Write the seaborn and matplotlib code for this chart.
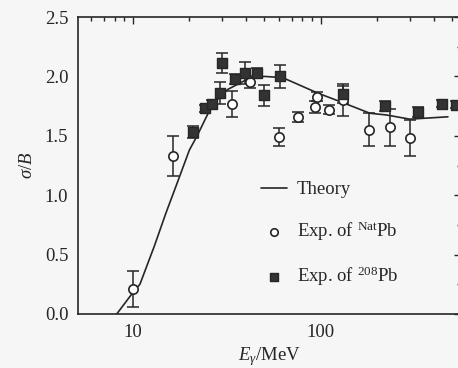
import numpy as np
import pandas as pd
import matplotlib
matplotlib.use("Agg")
import matplotlib.pyplot as plt
from matplotlib.ticker import FixedLocator, FixedFormatter, MultipleLocator, LogLocator, NullFormatter
import seaborn as sns

# curva teorica
theory_e = [8.2, 10, 10.9, 13, 15, 17.1, 20, 22, 25, 28, 32, 40, 50, 62.7, 96.4, 131, 183, 225, 299, 477]
theory_y = [0.0, 0.18, 0.25, 0.57, 0.85, 1.09, 1.38, 1.50, 1.68, 1.80, 1.89, 1.97, 2.00, 1.99, 1.86, 1.78, 1.69, 1.675, 1.64, 1.66]

# Exp. natPb (circulos)
nat_e = [10, 16.4, 33.7, 42, 60.3, 76.2, 93, 96, 110.6, 131, 181, 234, 299]
nat_y = [0.21, 1.33, 1.77, 1.95, 1.49, 1.66, 1.74, 1.83, 1.72, 1.80, 1.55, 1.57, 1.48]
nat_err = [0.155, 0.17, 0.11, 0.05, 0.075, 0.04, 0.05, 0.04, 0.04, 0.135, 0.14, 0.155, 0.15]

# Exp. 208Pb (cuadrados)
pb_e = [20.8, 24.3, 26.3, 29.2, 29.8, 35.1, 39.7, 45.8, 49.7, 61, 131, 220, 331, 445, 525]
pb_y = [1.53, 1.73, 1.77, 1.86, 2.11, 1.98, 2.03, 2.03, 1.84, 2.00, 1.85, 1.75, 1.70, 1.77, 1.76]
pb_err = [0.05, 0.03, 0.03, 0.09, 0.085, 0.04, 0.09, 0.04, 0.085, 0.10, 0.07, 0.04, 0.04, 0.03, 0.03]

x_ticks = [10, 100]
x_labels = ["10", "100"]

sns.set_theme(style="white")
plt.rcParams["font.family"] = ["Liberation Serif", "DejaVu Serif"]
plt.rcParams["font.size"] = 13.5
plt.rcParams["mathtext.fontset"] = "custom"
plt.rcParams["mathtext.rm"] = "Liberation Serif"
plt.rcParams["mathtext.it"] = "Liberation Serif:italic"

ink = "#262626"
bg = "#f6f6f6"

fig = plt.figure(figsize=(4.58, 3.68), dpi=100, facecolor=bg)
ax = fig.add_axes([78 / 458, 54 / 368, 383 / 458, 297 / 368], facecolor=bg)
ax.set_xscale("log")

sns.lineplot(x=theory_e, y=theory_y, ax=ax, color=ink, lw=1.2, sort=False, label="Theory", zorder=2)

ax.errorbar(nat_e, nat_y, yerr=nat_err, fmt="none", ecolor=ink, elinewidth=1.1, capsize=4.5, capthick=1.1, zorder=3)
ax.errorbar(pb_e, pb_y, yerr=pb_err, fmt="none", ecolor=ink, elinewidth=1.1, capsize=4.5, capthick=1.1, zorder=3)

sns.scatterplot(x=nat_e, y=nat_y, ax=ax, marker="o", s=45, facecolor="white", edgecolor=ink,
                linewidth=1.2, label="Exp. of $^{\\mathrm{Nat}}$Pb", zorder=4)
sns.scatterplot(x=pb_e, y=pb_y, ax=ax, marker="s", s=45, color="#333333", edgecolor=ink,
                linewidth=1.0, label="Exp. of $^{208}$Pb", zorder=5)

ax.set_xlim(5.1, 560)
ax.set_ylim(0, 2.5)

ax.xaxis.set_major_locator(FixedLocator(x_ticks))
ax.xaxis.set_major_formatter(FixedFormatter(x_labels))
ax.xaxis.set_minor_locator(LogLocator(base=10, subs=np.arange(2, 10)))
ax.xaxis.set_minor_formatter(NullFormatter())
ax.yaxis.set_major_locator(MultipleLocator(0.5))
ax.yaxis.set_minor_locator(MultipleLocator(0.25))
ax.yaxis.set_major_formatter(matplotlib.ticker.FormatStrFormatter("%.1f"))

ax.tick_params(which="both", direction="in", top=True, right=True, color=ink, width=1.0,
               labelsize=13.5, labelcolor=ink, pad=7)
ax.tick_params(which="major", length=5)
ax.tick_params(which="minor", length=3)
for s in ax.spines.values():
    s.set_color(ink)
    s.set_linewidth(1.2)

ax.set_xlabel(r"$E_\gamma$/MeV", fontsize=13.5, color=ink)
ax.set_ylabel(r"$\sigma/B$", fontsize=13.5, color=ink)
ax.xaxis.set_label_coords(0.5, -0.105)
ax.yaxis.set_label_coords(-0.11, 0.5)

leg = ax.legend(loc="upper left", bbox_to_anchor=(261 / 458, 1 - 181 / 368), bbox_transform=fig.transFigure,
                frameon=False, fontsize=13.5, handlelength=1.4, handletextpad=0.5, labelspacing=1.15,
                borderpad=0, borderaxespad=0, markerscale=0.8)
for t in leg.get_texts():
    t.set_color(ink)

fig.savefig("out.png", dpi=100, facecolor=bg)
